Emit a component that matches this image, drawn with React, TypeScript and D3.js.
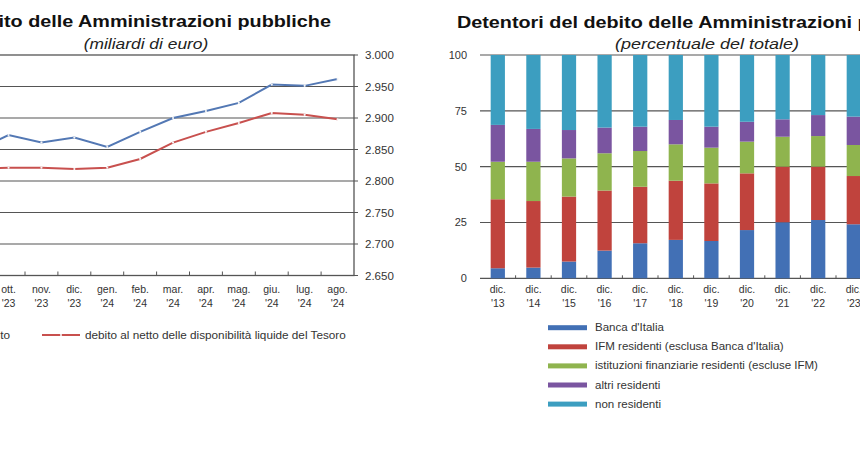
import React from "react";
import * as d3 from "d3";

// ---------- data: left chart (miliardi di euro) ----------
const leftCategories = ["set. '23", "ott. '23", "nov. '23", "dic. '23", "gen. '24", "feb. '24", "mar. '24", "apr. '24", "mag. '24", "giu. '24", "lug. '24", "ago. '24"];
const debitoLordo = [2848, 2873, 2861, 2869, 2854, 2878, 2900, 2911, 2924, 2953, 2951, 2962];
const debitoNetto = [2820, 2821, 2821, 2819, 2821, 2835, 2861, 2878, 2892, 2908, 2905, 2898];
const leftTicks = [2650, 2700, 2750, 2800, 2850, 2900, 2950, 3000];
const leftSeriesNames = ["debito", "debito al netto delle disponibilità liquide del Tesoro"];

// ---------- data: right chart (percentuale del totale) ----------
const rightCategories = ["dic. '13", "dic. '14", "dic. '15", "dic. '16", "dic. '17", "dic. '18", "dic. '19", "dic. '20", "dic. '21", "dic. '22", "dic. '23"];
const bancaItalia = [4.5, 4.8, 7.5, 12.4, 15.7, 17.2, 16.7, 21.6, 25.1, 26.1, 24.2];
const ifmResidenti = [30.9, 29.8, 29.1, 26.9, 25.3, 26.5, 25.8, 25.4, 24.9, 23.9, 21.6];
const istFinanziarie = [16.8, 17.6, 17.1, 16.7, 16.0, 16.3, 16.0, 14.2, 13.4, 13.7, 13.9];
const altriResidenti = [16.5, 14.7, 12.7, 11.5, 10.9, 10.9, 9.4, 8.9, 7.8, 9.4, 12.7];
const nonResidenti = [31.3, 33.1, 33.6, 32.5, 32.1, 29.1, 32.1, 29.9, 28.8, 26.9, 27.6];
const rightTicks = [0, 25, 50, 75, 100];
const holderNames = [
  "Banca d'Italia",
  "IFM residenti (esclusa Banca d'Italia)",
  "istituzioni finanziarie residenti (escluse IFM)",
  "altri residenti",
  "non residenti",
];

const FONT = "'Liberation Sans', Arial, Helvetica, sans-serif";
const holderColors = ["#4270b5", "#c0433d", "#8fb44e", "#7a55a0", "#3c9ec0"];
const BLUE = "#5378b4";
const RED = "#c8504e";

type TP = {
  x: number; y: number; anchor?: string; size: number; sx?: number;
  weight?: string; italic?: boolean; fill?: string; children: React.ReactNode;
};
function T({ x, y, anchor = "start", size, sx = 1, weight = "normal", italic = false, fill = "#333", children }: TP) {
  return (
    <text
      transform={`translate(${x},${y}) scale(${sx},1)`}
      textAnchor={anchor}
      fontSize={size}
      fontWeight={weight}
      fontStyle={italic ? "italic" : "normal"}
      fill={fill}
      fontFamily={FONT}
    >
      {children}
    </text>
  );
}

function LeftChart() {
  const right = 354, top = 55, bottom = 275.5, step = 32.9;
  const x = d3.scaleBand<string>().domain(leftCategories).range([right - step * leftCategories.length, right]);
  const y = d3.scaleLinear().domain([2650, 3000]).range([bottom, top]);
  const cx = (c: string) => (x(c) as number) + x.bandwidth() / 2;
  const line = d3.line<number>().x((_, i) => cx(leftCategories[i])).y((d) => y(d));
  const left = x.range()[0];
  const centre = 146;
  return (
    <g>
      <T x={centre} y={26.5} anchor="middle" size={16.5} sx={1.2} weight="bold" fill="#111">Debito delle Amministrazioni pubbliche</T>
      <T x={centre} y={49} anchor="middle" size={14.5} sx={1.2} italic fill="#222">(miliardi di euro)</T>
      {leftTicks.slice(1, -1).map((t) => (
        <line key={t} x1={left} x2={right} y1={y(t)} y2={y(t)} stroke="#555" strokeWidth={1.2} />
      ))}
      <rect x={left} y={top} width={right - left} height={bottom - top} fill="none" stroke="#555" strokeWidth={1.3} />
      {leftTicks.map((t) => (
        <g key={t}>
          <line x1={right} x2={right + 4} y1={y(t)} y2={y(t)} stroke="#555" />
          <T x={365} y={y(t) + 4} size={10.5} sx={1.1}>{d3.format(",")(t).replace(",", ".")}</T>
        </g>
      ))}
      {leftCategories.map((c, i) => (
        <g key={c}>
          {i > 0 && <line x1={x(c)} x2={x(c)} y1={bottom} y2={bottom - 4} stroke="#555" />}
          <T x={cx(c)} y={293} anchor="middle" size={10.5}>{c.split(" ")[0]}</T>
          <T x={cx(c)} y={307} anchor="middle" size={10.5}>{c.split(" ")[1]}</T>
        </g>
      ))}
      <path d={line(debitoLordo) as string} fill="none" stroke={BLUE} strokeWidth={2} />
      <path d={line(debitoNetto) as string} fill="none" stroke={RED} strokeWidth={2} />
      {[debitoLordo, debitoNetto].map((s, k) =>
        s.map((v, i) => (
          <circle key={`${k}-${i}`} cx={cx(leftCategories[i])} cy={y(v)} r={1.1} fill="#f4f4f4" />
        ))
      )}
      {/* legend */}
      <line x1={-66} x2={-28} y1={335} y2={335} stroke={BLUE} strokeWidth={2} />
      <circle cx={-47} cy={335} r={1.1} fill="#f4f4f4" />
      <T x={10} y={338.5} anchor="end" size={10.5} sx={1.12}>{leftSeriesNames[0]}</T>
      <line x1={42} x2={80} y1={335} y2={335} stroke={RED} strokeWidth={2} />
      <circle cx={61} cy={335} r={1.1} fill="#f4f4f4" />
      <T x={85} y={338.5} size={10.5} sx={1.12}>{leftSeriesNames[1]}</T>
    </g>
  );
}

function RightChart() {
  const left = 480, top = 55, bottom = 278.3, step = 35.6;
  const x = d3.scaleBand<string>().domain(rightCategories).range([left, left + step * rightCategories.length]).paddingInner(0.6).paddingOuter(0.3);
  const y = d3.scaleLinear().domain([0, 100]).range([bottom, top]);
  const right = x.range()[1];
  const rows = rightCategories.map((c, i) => ({
    c, s0: bancaItalia[i], s1: ifmResidenti[i], s2: istFinanziarie[i], s3: altriResidenti[i], s4: nonResidenti[i],
  }));
  const keys = ["s0", "s1", "s2", "s3", "s4"];
  const stacked = d3.stack<any>().keys(keys)(rows);
  const centre = 704;
  return (
    <g>
      <T x={centre} y={28} anchor="middle" size={16.5} sx={1.2} weight="bold" fill="#111">Detentori del debito delle Amministrazioni pubbliche</T>
      <T x={centre + 3} y={49} anchor="middle" size={14.5} sx={1.24} italic fill="#222">(percentuale del totale)</T>
      {rightTicks.map((t) => (
        <g key={t}>
          <line x1={left} x2={right} y1={y(t)} y2={y(t)} stroke="#555" strokeWidth={1.2} />
          <T x={467} y={y(t) + 4} anchor="end" size={10.5} sx={1.05}>{t}</T>
        </g>
      ))}
      {stacked.map((layer, k) => (
        <g key={k} fill={holderColors[k]}>
          {layer.map((d, i) => (
            <rect key={i} x={x(rightCategories[i])} width={x.bandwidth()} y={y(d[1])} height={y(d[0]) - y(d[1])} />
          ))}
        </g>
      ))}
      {rightCategories.map((c, i) => {
        const b = (x(c) as number) + x.bandwidth() / 2;
        return (
          <g key={c}>
            {i > 0 && <line x1={b - step / 2} x2={b - step / 2} y1={bottom} y2={bottom - 3} stroke="#555" />}
            <T x={b} y={293} anchor="middle" size={10.5}>{c.split(" ")[0]}</T>
            <T x={b} y={306.7} anchor="middle" size={10.5}>{c.split(" ")[1]}</T>
          </g>
        );
      })}
      {holderNames.map((n, k) => (
        <g key={n}>
          <rect x={548} y={327.7 + 19.1 * k - 2.5} width={39} height={5} fill={holderColors[k]} />
          <T x={595} y={331.2 + 19.1 * k} size={10.5} sx={1.1}>{n}</T>
        </g>
      ))}
    </g>
  );
}

export default function App() {
  return (
    <svg width={860} height={450} style={{ position: "absolute", left: 0, top: 0, background: "#fff" }}>
      <rect width={860} height={450} fill="#fff" />
      <LeftChart />
      <RightChart />
    </svg>
  );
}
